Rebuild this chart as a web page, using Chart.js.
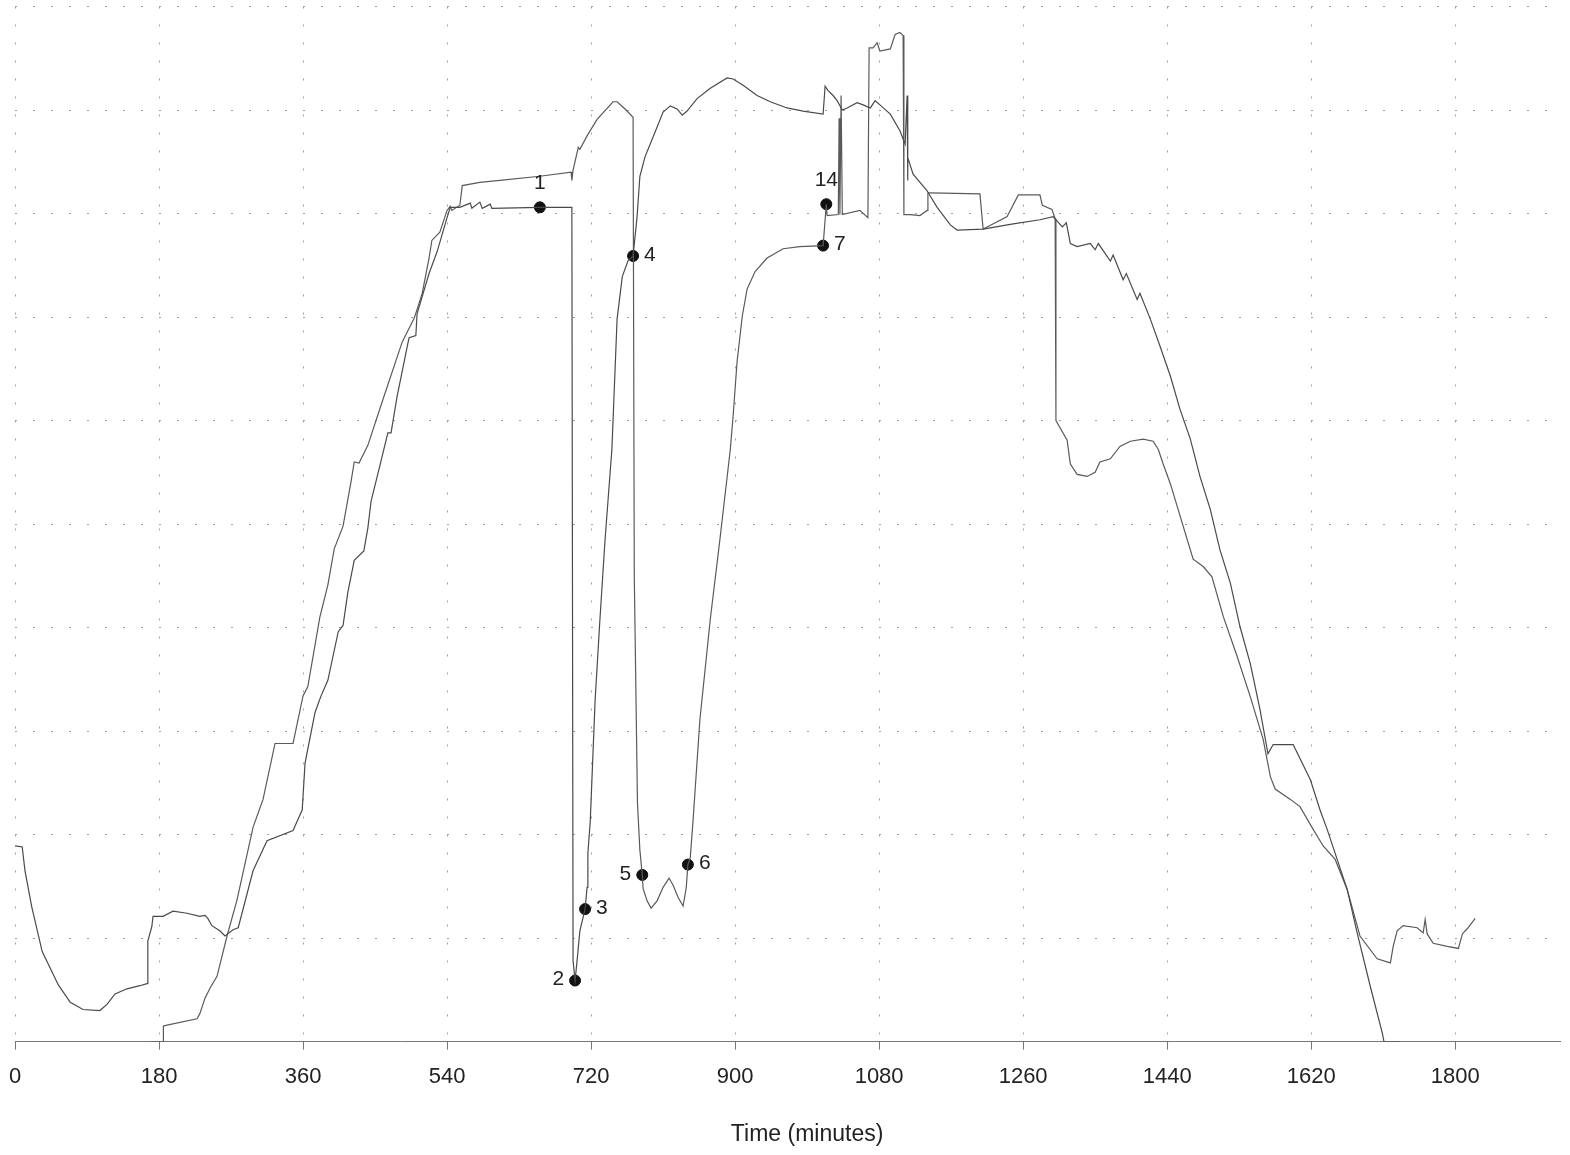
<!DOCTYPE html>
<html>
<head>
<meta charset="utf-8">
<script src="https://cdn.jsdelivr.net/npm/chart.js@4.4.1/dist/chart.umd.min.js"></script>
<style>
  html, body { margin: 0; padding: 0; background: #fff; }
  #wrap { width: 1570px; height: 1155px; }
</style>
</head>
<body>
<div id="wrap"><canvas id="trend" width="1570" height="1155"></canvas></div>
<script>
// Trace A: minutes / value
const tiempoA = [0, 9, 12.5, 21, 34, 54, 69, 85, 106, 115,
  125, 140, 156, 165, 166, 171, 172.5, 185, 197.5, 215,
  231, 237.5, 241, 246, 256, 262.5, 272.5, 279, 297.5, 315,
  347.5, 359, 362.5, 375, 382.5, 391, 404, 410, 416, 424,
  436, 441, 445, 457.5, 466, 470, 477.5, 492.5, 501, 502.5,
  517.5, 527.5, 540, 544, 556, 569, 571, 581, 584, 594,
  596, 656, 696, 697.5, 700, 702.5, 706, 712.5, 715, 716,
  719, 725, 731, 737.5, 746, 752.5, 759, 766, 772.5, 777.5,
  781, 787.5, 797.5, 810, 819, 827.5, 834, 840, 852.5, 869,
  890, 897.5, 910, 927.5, 944, 965, 985, 1010, 1012.5, 1016,
  1022.5, 1027.5, 1034, 1040, 1052.5, 1060, 1069, 1075, 1081, 1094,
  1106, 1112.5, 1115, 1115.6, 1116, 1122.5, 1140, 1152.5, 1169, 1177.5,
  1210, 1247.5, 1281, 1297.5, 1309, 1314, 1319, 1327.5, 1344, 1350,
  1354, 1369, 1372.5, 1385, 1389, 1402.5, 1406, 1419, 1431, 1444,
  1456, 1469, 1481, 1494, 1506, 1519, 1531, 1544, 1556, 1566,
  1572.5, 1597.5, 1602.5, 1619, 1631, 1640, 1652.5, 1665, 1677.5, 1694,
  1709, 1711, 1731];
const valorA = [18.9, 18.8, 16.5, 13.0, 8.7, 5.5, 3.8, 3.1, 3.0, 3.6,
  4.6, 5.1, 5.4, 5.6, 9.7, 11.1, 12.1, 12.1, 12.6, 12.4,
  12.1, 12.2, 11.9, 11.2, 10.7, 10.2, 10.8, 11.0, 16.5, 19.4,
  20.4, 22.4, 26.9, 31.8, 33.4, 34.9, 39.6, 40.2, 43.4, 46.5,
  47.4, 49.6, 52.2, 56.1, 58.8, 58.8, 62.3, 68.0, 68.2, 70.3,
  74.2, 76.3, 79.6, 80.6, 80.6, 81.0, 80.5, 81.1, 80.5, 80.9,
  80.5, 80.6, 80.6, 7.8, 5.9, 7.8, 10.7, 12.8, 14.9, 18.2,
  21.3, 32.9, 40.7, 48.5, 57.2, 69.8, 73.9, 75.4, 75.9, 79.7,
  83.6, 85.5, 87.4, 89.8, 90.4, 90.1, 89.5, 89.9, 91.1, 92.1,
  93.1, 93.0, 92.4, 91.4, 90.8, 90.2, 89.9, 89.6, 92.3, 91.9,
  91.4, 90.9, 90.0, 90.2, 90.7, 90.5, 90.2, 90.9, 90.5, 89.6,
  88.0, 86.7, 91.4, 83.2, 85.4, 83.8, 82.2, 80.6, 78.9, 78.4,
  78.5, 79.0, 79.4, 79.7, 78.7, 79.1, 77.1, 76.8, 77.1, 76.5,
  77.1, 75.4, 76.0, 73.6, 74.2, 71.7, 72.3, 69.8, 67.2, 64.3,
  61.1, 58.2, 54.6, 51.4, 47.5, 44.3, 40.1, 36.5, 32.1, 27.8,
  28.7, 28.7, 27.9, 25.3, 22.4, 20.5, 17.6, 14.7, 10.5, 5.3,
  0.8, 0, 0];

// Trace B: minutes / value
const tiempoB = [169, 185, 185.5, 190, 227.5, 231, 237.5, 244, 252.5, 265,
  277.5, 297.5, 310, 325, 347.5, 360, 366, 381, 391, 399,
  410, 420, 424, 430, 441, 461, 484, 499, 509, 517.5,
  521, 531, 540, 544, 546, 556, 559, 581, 606, 656,
  695, 696, 697.5, 704, 706, 715, 727.5, 747.5, 752.5, 762.5,
  772.5, 774, 778, 781, 784, 785, 790, 795, 802.5, 810, 817.5, 822.5,
  829, 835, 839, 841, 844, 847.5, 856, 869, 881, 894,
  897.5, 902.5, 909, 915, 925, 940, 960, 981, 1010, 1014,
  1015, 1029, 1030, 1031, 1032.5, 1034, 1056, 1066, 1067.5, 1072.5,
  1077.5, 1081, 1094, 1100, 1106, 1110, 1111, 1119, 1131, 1140,
  1141, 1144, 1206, 1210, 1215, 1240, 1254, 1281, 1284, 1296,
  1300, 1301, 1315, 1319, 1327.5, 1340, 1350, 1356, 1369, 1381,
  1394, 1410, 1422.5, 1429, 1435, 1444, 1460, 1472.5, 1485, 1496,
  1510, 1527.5, 1544, 1560, 1569, 1575, 1594, 1606, 1622.5, 1635,
  1650, 1665, 1681, 1702.5, 1719, 1722.5, 1727.5, 1735, 1752.5, 1760,
  1762.5, 1765, 1772.5, 1790, 1804, 1809, 1815, 1825];
const valorB = [0, 0, 1.5, 1.6, 2.2, 2.7, 4.2, 5.2, 6.3, 10.2,
  13.7, 20.7, 23.4, 28.8, 28.8, 33.4, 34.3, 41.0, 44.1, 47.6,
  49.8, 54.1, 56.0, 55.9, 57.6, 62.3, 67.6, 69.9, 72.3, 75.7,
  77.4, 78.2, 80.3, 80.7, 80.3, 80.8, 82.7, 83.0, 83.2, 83.6,
  84.0, 83.2, 84.2, 86.4, 86.2, 87.5, 89.1, 90.8, 90.8, 90.1,
  89.3, 45.0, 23.0, 18.5, 16.1, 14.8, 13.6, 12.9, 13.6, 14.9, 15.8, 15.1,
  13.9, 13.1, 14.9, 17.1, 17.8, 21.4, 31.1, 40.8, 48.5, 57.2,
  60.4, 65.7, 70.1, 72.7, 74.4, 75.7, 76.6, 76.8, 76.9, 80.9,
  79.8, 79.9, 89.2, 79.9, 91.4, 79.9, 80.3, 79.6, 96.0, 96.0,
  96.5, 95.7, 95.9, 97.3, 97.5, 97.2, 79.9, 79.9, 79.8, 80.3,
  82.0, 82.0, 81.9, 78.5, 78.7, 79.7, 81.8, 81.8, 80.8, 80.4,
  79.5, 60.0, 58.1, 55.8, 54.8, 54.6, 55.0, 56.0, 56.3, 57.5,
  58.0, 58.2, 58.0, 57.2, 55.8, 53.9, 49.8, 46.6, 45.9, 44.9,
  41.1, 37.2, 33.3, 29.2, 25.6, 24.4, 23.4, 22.7, 20.5, 18.9,
  17.6, 14.7, 10.2, 8.0, 7.6, 9.2, 10.7, 11.2, 11.0, 10.5,
  11.8, 10.4, 9.5, 9.2, 9.0, 10.4, 10.9, 11.9];

// Numbered event markers
const etiquetas = ['1', '2', '3', '4', '5', '6', '7', '14'];
const tiempoEventos = [656, 700, 712.5, 772.5, 784, 841, 1010, 1014];
const valorEventos = [80.6, 5.9, 12.8, 75.9, 16.1, 17.1, 76.9, 80.9];

const tiempoMax = 1931;
const pasoTiempo = 180;
const tituloX = 'Time (minutes)';

function pares(xs, ys) {
  return xs.map(function(x, i) { return { x: x, y: ys[i] }; });
}

// where each marker number sits relative to its dot
const ladoEtiqueta = ['arriba', 'izq', 'der', 'der', 'izq', 'der', 'der', 'arriba'];

const etiquetasPlugin = {
  id: 'etiquetas',
  afterDatasetsDraw: function(chart) {
    const ctx = chart.ctx;
    const meta = chart.getDatasetMeta(2);
    ctx.save();
    ctx.font = '21px "Liberation Sans", Arial, sans-serif';
    ctx.fillStyle = '#222';
    ctx.textBaseline = 'middle';
    meta.data.forEach(function(pt, i) {
      const lado = ladoEtiqueta[i];
      if (lado === 'arriba') {
        ctx.textAlign = 'center';
        ctx.fillText(etiquetas[i], pt.x, pt.y - 24);
      } else if (lado === 'izq') {
        ctx.textAlign = 'right';
        ctx.fillText(etiquetas[i], pt.x - 11, pt.y - 1);
      } else {
        ctx.textAlign = 'left';
        ctx.fillText(etiquetas[i], pt.x + 11, pt.y - 1);
      }
    });
    // axis title
    const escalaX = chart.scales.x;
    ctx.textAlign = 'center';
    ctx.font = '23px "Liberation Sans", Arial, sans-serif';
    ctx.fillText(tituloX, escalaX.getPixelForValue(990), 1135);
    ctx.restore();
  }
};

const ctx = document.getElementById('trend').getContext('2d');
const trend = new Chart(ctx, {
  type: 'line',
  data: {
    datasets: [{
      label: 'A',
      data: pares(tiempoA, valorA),
      borderColor: '#4a4a4a',
      borderWidth: 1.2,
      pointRadius: 0,
      tension: 0
    }, {
      label: 'B',
      data: pares(tiempoB, valorB),
      borderColor: '#5a5a5a',
      borderWidth: 1.2,
      pointRadius: 0,
      tension: 0
    }, {
      type: 'scatter',
      label: 'eventos',
      data: pares(tiempoEventos, valorEventos),
      backgroundColor: '#111',
      borderColor: '#111',
      pointRadius: 5.5,
      showLine: false
    }]
  },
  options: {
    responsive: false,
    animation: false,
    devicePixelRatio: 1,
    layout: { padding: { left: 15, right: 10, top: 4, bottom: 51 } },
    plugins: {
      legend: { display: false },
      tooltip: { enabled: false }
    },
    scales: {
      x: {
        type: 'linear',
        min: 0,
        max: tiempoMax,
        // the "0" label may hang over the left edge
        afterFit: function(escala) { escala.paddingLeft = 0; },
        grid: {
          color: '#a0a0a0',
          lineWidth: 1,
          tickLength: 8,
          tickColor: '#777',
          tickWidth: 1
        },
        border: { display: true, color: '#777', width: 1, dash: [2, 16] },
        ticks: {
          stepSize: pasoTiempo,
          includeBounds: false,
          padding: 14,
          color: '#222',
          maxRotation: 0,
          font: { size: 22, family: '"Liberation Sans", Arial, sans-serif' },
          callback: function(valor) { return String(valor); }
        }
      },
      y: {
        min: 0,
        max: 100,
        afterFit: function(escala) { escala.width = 0; },
        grid: { color: '#a0a0a0', lineWidth: 1, drawTicks: false },
        border: { display: false, dash: [2, 16] },
        ticks: { stepSize: 10, display: false }
      }
    }
  },
  plugins: [etiquetasPlugin]
});
</script>
</body>
</html>
